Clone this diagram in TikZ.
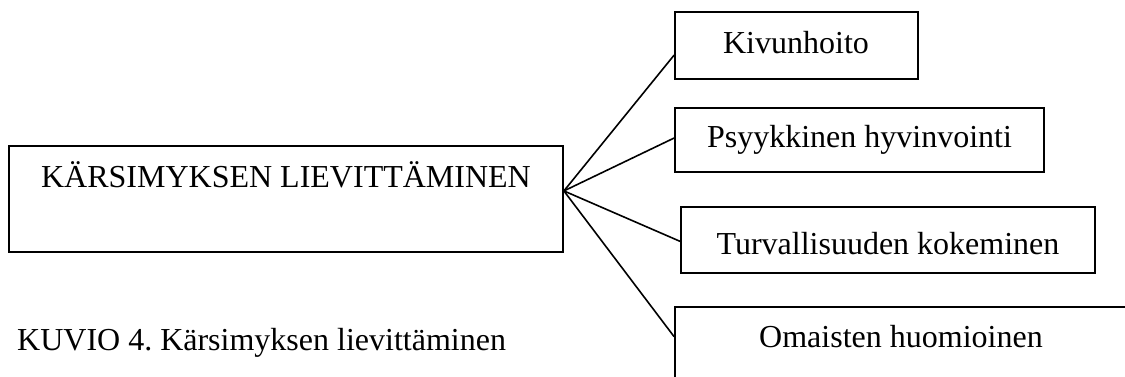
\documentclass[tikz,border=0pt]{standalone}
\usepackage{fontspec}
\setmainfont{Liberation Serif}
\usetikzlibrary{calc}
\frenchspacing
\begin{document}
\begin{tikzpicture}[x=1pt,y=-1pt,
  box/.style={draw=black, line width=1.8pt, rectangle, inner sep=0pt},
  lbl/.style={anchor=base, inner sep=0pt, font=\fontsize{32}{38}\selectfont},
  conn/.style={draw=black, line width=1.6pt}]
\useasboundingbox (0,0) rectangle (1125,376);
\clip (0,0) rectangle (1125,376);
% boxes
\node[box, minimum width=554pt, minimum height=106pt] (main) at (286,199) {};
\node[box, minimum width=243pt, minimum height=67pt] (kiv) at (796.5,45.5) {};
\node[box, minimum width=369pt, minimum height=64pt] (psy) at (859.5,140) {};
\node[box, minimum width=414pt, minimum height=66pt] (tur) at (888,240) {};
\node[box, minimum width=500pt, minimum height=100pt] (oma) at (925,357) {};
% texts
\node[lbl] (maint) at (286,187) {KÄRSIMYKSEN LIEVITTÄMINEN};
\node[lbl] (kivt) at (796,53) {Kivunhoito};
\node[lbl] (psyt) at (859.5,147) {Psyykkinen hyvinvointi};
\node[lbl] (turt) at (888,254) {Turvallisuuden kokeminen};
\node[lbl] (omat) at (901,347) {Omaisten huomioinen};
\node[lbl, anchor=base west] (cap) at (17,350) {KUVIO 4.\ Kärsimyksen lievittäminen};
% connectors
\coordinate (hub) at ($(main.north east)!0.425!(main.south east)$);
\draw[conn] (hub) -- ($(kiv.north west)!0.64!(kiv.south west)$);
\draw[conn] (hub) -- ($(psy.north west)!0.47!(psy.south west)$);
\draw[conn] (hub) -- ($(tur.north west)!0.52!(tur.south west)$);
\draw[conn] (hub) -- ($(oma.north west)!0.30!(oma.south west)$);
\end{tikzpicture}
\end{document}
